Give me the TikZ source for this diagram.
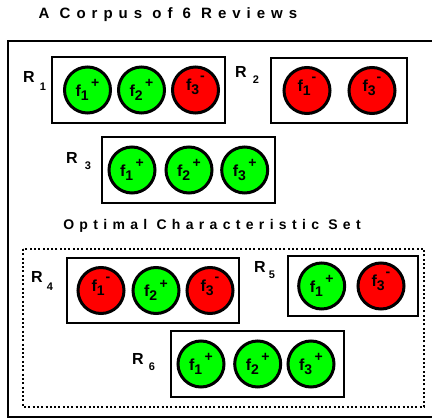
\documentclass[tikz,border=0pt]{standalone}
\usepackage{fontspec}
\setmainfont{Liberation Sans}

\definecolor{posgreen}{RGB}{0,255,0}
\definecolor{negred}{RGB}{255,0,0}

% feature label: f, lowered index, raised sign
\newcommand{\feat}[2]{f\raisebox{-4pt}{\fontsize{14}{14}\selectfont #1}\hspace{2.5pt}\raisebox{8.7pt}{\fontsize{14}{14}\selectfont #2}\hspace{2pt}}
\newcommand{\featneg}[1]{f\raisebox{-4pt}{\fontsize{14}{14}\selectfont #1}\hspace{1pt}\raisebox{10pt}{\fontsize{14}{14}\selectfont -}\hspace{5pt}}

\begin{document}
\begin{tikzpicture}[x=1pt,y=-1pt,
    posfeat/.style={circle,draw,line width=3pt,fill=posgreen,minimum size=46pt,inner sep=0pt,
      text height=17pt,text depth=4pt,font=\bfseries\fontsize{16}{16}\selectfont},
    negfeat/.style={posfeat,fill=negred,text height=10pt,text depth=8pt},
    revbox/.style={draw,line width=2.5pt},
    rname/.style={inner sep=0pt,font=\bfseries\fontsize{16}{16}\selectfont},
    rnum/.style={inner sep=0pt,font=\bfseries\fontsize{11}{11}\selectfont},
    heading/.style={inner sep=0pt,font=\bfseries\fontsize{14}{14}\selectfont\addfontfeature{LetterSpace=38}}]
    \useasboundingbox (0,0) rectangle (432,419);

    % corpus
    \node[heading,font=\bfseries\fontsize{15}{15}\selectfont\addfontfeature{LetterSpace=40}] (title) at (168,15) {A Corpus of 6 Reviews};
    \draw[line width=2pt] (8,41) rectangle (445,417);

    % R1
    \node[rname] (r1name) at (29,77) {R};
    \node[rnum] (r1num) at (43,87) {1};
    \draw[revbox] (52,57) rectangle (225,123);
    \node[posfeat] (r1f1) at (87.5,90) {\feat{1}{+}};
    \node[posfeat] (r1f2) at (141.5,90) {\feat{2}{+}};
    \node[negfeat] (r1f3) at (195.5,90) {\featneg{3}};

    % R2
    \node[rname] (r2name) at (241,72) {R};
    \node[rnum] (r2num) at (256,80) {2};
    \draw[revbox] (271,58) rectangle (407,123);
    \node[negfeat] (r2f1) at (307,90.5) {\featneg{1}};
    \node[negfeat] (r2f3) at (372,90.5) {\featneg{3}};

    % R3
    \node[rname] (r3name) at (72,158) {R};
    \node[rnum] (r3num) at (88,166) {3};
    \draw[revbox] (102,137) rectangle (275,203);
    \node[posfeat] (r3f1) at (132,170) {\feat{1}{+}};
    \node[posfeat] (r3f2) at (189,170) {\feat{2}{+}};
    \node[posfeat] (r3f3) at (244.7,170) {\feat{3}{+}};

    % optimal set
    \node[heading] (optimal) at (212,226) {Optimal Characteristic Set};
    \draw[line width=2pt,dash pattern=on 2pt off 2.3pt] (23,249) rectangle (424,407);

    % R4
    \node[rname] (r4name) at (37,277) {R};
    \node[rnum] (r4num) at (50,287) {4};
    \draw[revbox] (67,258) rectangle (239,323);
    \node[negfeat] (r4f1) at (101,290.5) {\featneg{1}};
    \node[posfeat] (r4f2) at (156,290.5) {\feat{2}{+}};
    \node[negfeat] (r4f3) at (210,290.5) {\featneg{3}};

    % R5
    \node[rname] (r5name) at (260,267) {R};
    \node[rnum] (r5num) at (272,275) {5};
    \draw[revbox] (288,256) rectangle (418,316);
    \node[posfeat] (r5f1) at (321.7,286) {\feat{1}{+}};
    \node[negfeat] (r5f3) at (381,286) {\featneg{3}};

    % R6
    \node[rname] (r6name) at (138,359) {R};
    \node[rnum] (r6num) at (152,367) {6};
    \draw[revbox] (171,331) rectangle (344,397);
    \node[posfeat] (r6f1) at (201,364) {\feat{1}{+}};
    \node[posfeat] (r6f2) at (257.7,364) {\feat{2}{+}};
    \node[posfeat] (r6f3) at (311,364) {\feat{3}{+}};
\end{tikzpicture}
\end{document}
